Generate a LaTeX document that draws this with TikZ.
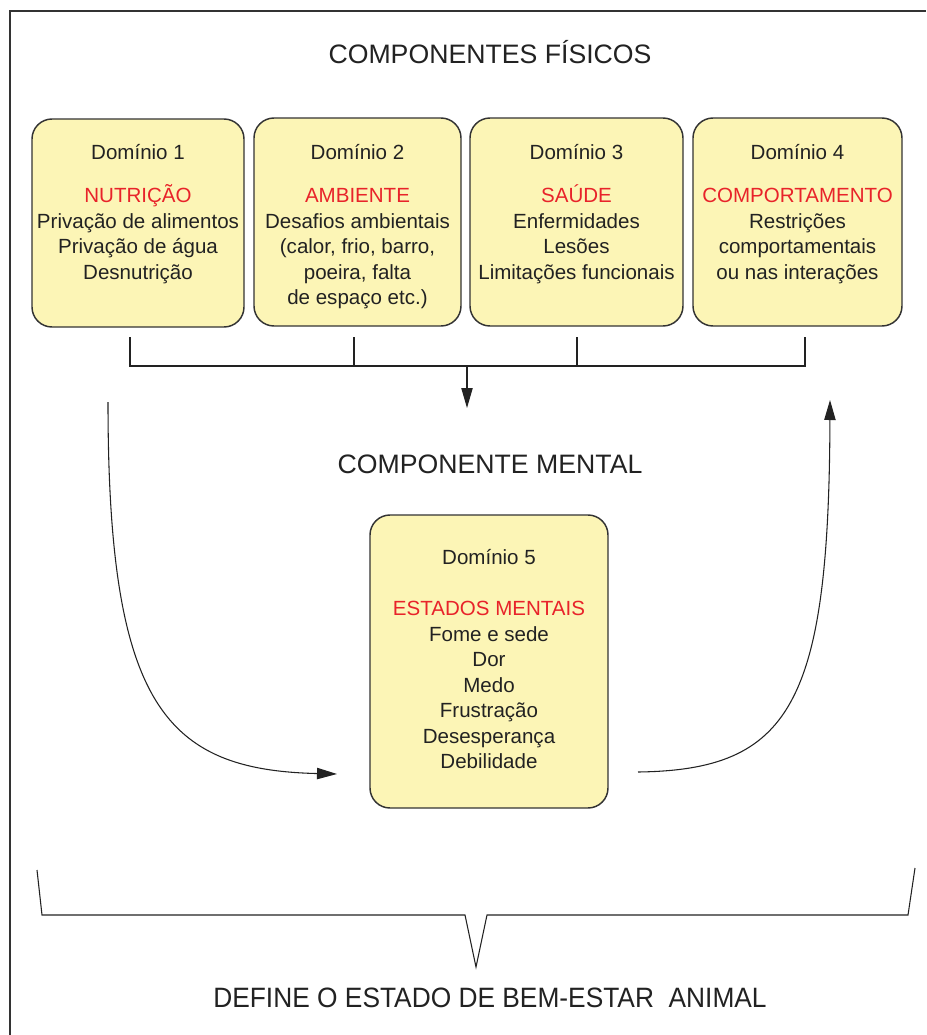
\documentclass[tikz,border=0pt]{standalone}
\usepackage{fontspec}
\setmainfont{Liberation Sans}
\usetikzlibrary{arrows.meta}
\definecolor{boxfill}{HTML}{FCF5B6}
\definecolor{boxline}{HTML}{333333}
\definecolor{ink}{HTML}{222222}
\definecolor{accent}{HTML}{E8232A}
\begin{document}
\begin{tikzpicture}[x=0.75pt, y=-0.75pt,
  dbox/.style={draw=boxline, fill=boxfill, line width=1.1pt, rounded corners=15pt,
               minimum height=156pt, inner sep=0pt},
  dtext/.style={anchor=north, inner sep=0pt, align=center, text=ink,
                font=\fontsize{15.4}{19.1}\selectfont},
  heading/.style={anchor=base, inner sep=0pt, text=ink, font=\fontsize{20}{24}\selectfont},
  conn/.style={draw=ink, line width=0.8pt},
  arrowtip/.style={-{Triangle[length=15pt,width=8.5pt]}},
  frameline/.style={draw=boxline, line width=1.2pt}
]
\useasboundingbox (0,0) rectangle (926,1035);

% partial frame: top and left edges
\draw[frameline] (10,1035) -- (10,11) -- (926,11);

% headings
\node[heading] (hfis) at (490,63.5) {COMPONENTES FÍSICOS};
\node[heading] (hmen) at (490,473.5) {COMPONENTE MENTAL};
\node[heading, font=\fontsize{21}{25}\selectfont] (hdef) at (490,1007)
  {\scalebox{0.94}[1]{DEFINE O ESTADO DE BEM-ESTAR\ \ ANIMAL}};

% physical domains
\node[dbox, minimum width=159pt]    (d1) at (138,223) {};
\node[dbox, minimum width=155.25pt] (d2) at (357.5,222) {};
\node[dbox, minimum width=159.75pt] (d3) at (576.5,222) {};
\node[dbox, minimum width=156.75pt] (d4) at (797.5,222) {};

\node[dtext] (t1) at (138,144.5) {Domínio 1\\[13pt]
  \textcolor{accent}{NUTRIÇÃO}\\ Privação de alimentos\\ Privação de água\\ Desnutrição};
\node[dtext] (t2) at (357.5,144.5) {Domínio 2\\[13pt]
  \textcolor{accent}{AMBIENTE}\\ Desafios ambientais\\ (calor, frio, barro,\\ poeira, falta\\ de espaço etc.)};
\node[dtext] (t3) at (576.5,144.5) {Domínio 3\\[13pt]
  \textcolor{accent}{SAÚDE}\\ Enfermidades\\ Lesões\\ Limitações funcionais};
\node[dtext] (t4) at (797.5,144.5) {Domínio 4\\[13pt]
  \textcolor{accent}{COMPORTAMENTO}\\ Restrições\\ comportamentais\\ ou nas interações};

% mental domain
\node[dbox, minimum width=178.5pt, minimum height=219.75pt] (d5) at (489,661.5) {};
\node[dtext] (t5) at (489,549.5) {Domínio 5\\[19pt]
  \textcolor{accent}{ESTADOS MENTAIS}\\ Fome e sede\\ Dor\\ Medo\\ Frustração\\ Desesperança\\ Debilidade};

% collecting bracket under the physical domains
\coordinate (k1) at (130,337); \coordinate (b1) at (130,366);
\coordinate (k2) at (354,337); \coordinate (b2) at (354,366);
\coordinate (k3) at (577,337); \coordinate (b3) at (577,366);
\coordinate (k4) at (805,337); \coordinate (b4) at (805,366);
\draw[conn] (k1) -- (b1) -- (b4) -- (k4);
\draw[conn] (k2) -- (b2);
\draw[conn] (k3) -- (b3);
\coordinate (m0) at (467,366); \coordinate (m1) at (467,408);
\draw[conn, arrowtip] (m0) -- (m1);

% curved arrows into and out of the mental domain
\coordinate (l0) at (108,402); \coordinate (l1) at (337,774);
\draw[conn, arrowtip] (l0) .. controls (108,705) and (165,770) .. (l1);
\coordinate (r0) at (638,772); \coordinate (r1) at (830,400);
\draw[conn, arrowtip] (r0) .. controls (790,770) and (829,705) .. (r1);

% closing brace
\coordinate (e0) at (37,870); \coordinate (e1) at (915,868);
\draw[conn, line join=miter] (e0) -- (42,915) -- (465,915) -- (476,967) -- (487,915)
  -- (908,915) -- (e1);
\end{tikzpicture}
\end{document}
